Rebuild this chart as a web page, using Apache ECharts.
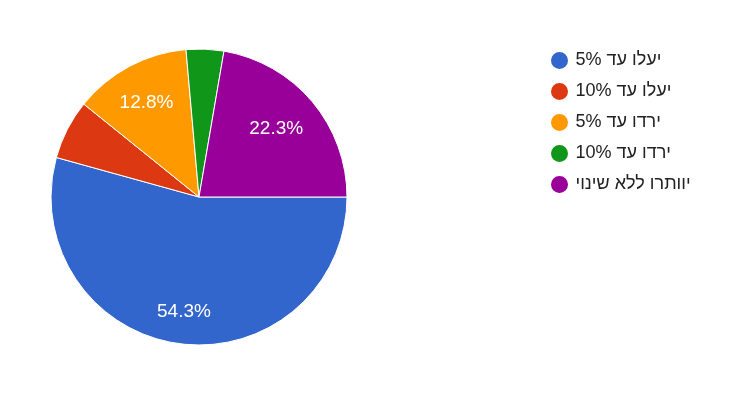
<!DOCTYPE html>
<html><head><meta charset="utf-8">
<script src="https://cdn.jsdelivr.net/npm/echarts@6/dist/echarts.min.js"></script>
<style>html,body{margin:0;padding:0;background:#fff}#c{width:730px;height:418px}</style>
</head><body><div id="c"></div>
<script>
const categories = ['יעלו עד 5%', 'יעלו עד 10%', 'ירדו עד 5%', 'ירדו עד 10%', 'יוותרו ללא שינוי'];
const values = [54.3, 6.5, 12.8, 4.1, 22.3];
const colors = ['#3366cc', '#dc3912', '#ff9900', '#109618', '#990099'];
const showLabel = [true, false, true, false, true];
const labelPad = [0, 0, 0, 0, [0, 16, 0, 0]];

const chart = echarts.init(document.getElementById('c'), null, {renderer: 'canvas'});
const center = [199, 197];
const labelCenter = [199, 201];
const pieData = categories.map((n, i) => ({name: n, value: values[i], itemStyle: {color: colors[i]}}));
const labelData = categories.map((n, i) => ({name: n, value: values[i], label: {show: showLabel[i], padding: labelPad[i]}}));
chart.setOption({
  animation: false,
  legend: {
    orient: 'vertical', left: 544, top: 45,
    itemWidth: 22, itemHeight: 19, itemGap: 10,
    icon: 'circle',
    selectedMode: false,
    textStyle: {fontFamily: 'Liberation Sans, Arial', fontSize: 18, color: '#222', lineHeight: 19},
    data: categories.map((n, i) => ({name: n, itemStyle: {color: colors[i]}}))
  },
  series: [{
    type: 'pie', center: center, radius: [0, 148], startAngle: 0, clockwise: true,
    silent: true, label: {show: false}, labelLine: {show: false},
    itemStyle: {borderColor: '#fff', borderWidth: 1},
    data: pieData
  }, {
    type: 'pie', center: labelCenter, radius: [0, 217], startAngle: 0, clockwise: true,
    silent: true, labelLine: {show: false},
    itemStyle: {color: 'rgba(0,0,0,0)', borderWidth: 0},
    label: {position: 'inside', color: '#fff', fontFamily: 'Liberation Sans, Arial', fontSize: 19,
      formatter: p => p.value.toFixed(1) + '%'},
    data: labelData
  }]
});
</script></body></html>
